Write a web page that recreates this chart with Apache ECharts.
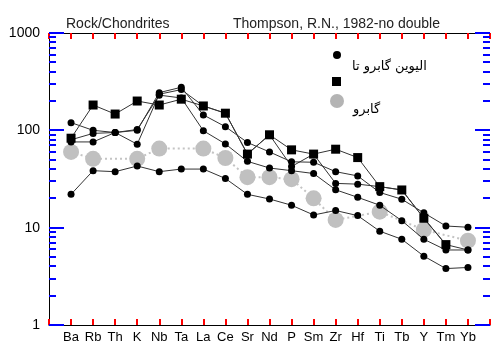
<!DOCTYPE html>
<html>
<head>
<meta charset="utf-8">
<script src="https://cdn.jsdelivr.net/npm/echarts@6/dist/echarts.min.js"></script>
<style>
html, body { margin: 0; padding: 0; background: #fff; }
#main { width: 493px; height: 345px; }
</style>
</head>
<body>
<div id="main"></div>
<script>
var categories = ['Ba', 'Rb', 'Th', 'K', 'Nb', 'Ta', 'La', 'Ce', 'Sr', 'Nd', 'P', 'Sm', 'Zr', 'Hf', 'Ti', 'Tb', 'Y', 'Tm', 'Yb'];

// olivine gabbro samples (black circles)
var sampleA = [120, 100, 95, 100, 244, 277, 144, 109, 75, 60, 47.5, 47, 37.6, 34, 23, 19.6, 14.2, 10.4, 10.1];
var sampleB = [80, 93, 95, 72, 235, 262, 178, 150, 57, 90, 42.5, 57, 28.5, 28, 26.4, 24.4, 12.5, 6.7, 5.9];
var sampleC = [76, 76, 95, 102, 230, 215, 99, 72.5, 48, 41, 38.5, 36, 24.5, 20.5, 17, 11.8, 7.6, 5.9, 5.9];
var sampleD = [22, 38.5, 37.6, 43, 37.6, 40, 40, 32, 22, 19.7, 17, 13.5, 15, 13.3, 9.2, 7.6, 5.1, 3.8, 3.9];
// black squares
var sampleSq = [83, 182, 147, 200, 182, 209, 178, 150, 57, 90, 63, 57, 64, 52.5, 26.4, 24.4, 12.5, 6.7, null];
// gabbro (grey)
var gabbro = [60, 51, null, 51, 65, null, 65, 52, 33, 33, 31.5, 20, 12, null, 14.6, null, 9.5, null, 7.35];

var majorTicks = [1, 10, 100, 1000];
var minorTicks = [2, 3, 4, 5, 6, 7, 8, 9, 20, 30, 40, 50, 60, 70, 80, 90, 200, 300, 400, 500, 600, 700, 800, 900];

function toPoints(values) {
    var pts = [];
    for (var i = 0; i < values.length; i++) {
        if (values[i] != null) {
            pts.push([i + 1, values[i]]);
        }
    }
    return pts;
}

var myChart = echarts.init(document.getElementById('main'));

function blackSeries(values, symbol, size) {
    return {
        type: 'line',
        data: toPoints(values),
        symbol: symbol,
        symbolSize: size,
        showAllSymbol: true,
        lineStyle: { color: '#333', width: 1 },
        itemStyle: { color: '#000' },
        z: 3
    };
}

function tickLine(x1, y1, x2, y2) {
    return { type: 'line', shape: { x1: x1, y1: y1, x2: x2, y2: y2 }, style: { stroke: 'blue', lineWidth: 2 } };
}

// inward log ticks on the left and right frame
var yTickData = majorTicks.concat(minorTicks).map(function (v) { return [0, v]; });
function renderYTick(params, api) {
    var v = api.value(1);
    var len = majorTicks.indexOf(v) >= 0 ? 15 : 7;
    var l = api.coord([0, v]);
    var r = api.coord([20, v]);
    var y = Math.round(l[1]);
    return {
        type: 'group',
        children: [
            tickLine(Math.round(l[0]), y, Math.round(l[0]) + len, y),
            tickLine(Math.round(r[0]), y, Math.round(r[0]) - len, y)
        ]
    };
}

var option = {
    animation: false,
    title: [
        { text: 'Rock/Chondrites', left: 61, top: 12, textStyle: { fontSize: 14, fontWeight: 'normal', color: '#222', fontFamily: 'Liberation Sans' } },
        { text: 'Thompson, R.N., 1982-no double', left: 228, top: 12, textStyle: { fontSize: 14, fontWeight: 'normal', color: '#222', fontFamily: 'Liberation Sans' } }
    ],
    grid: { left: 49, right: 1, top: 33, bottom: 20 },
    xAxis: [
        {
            type: 'value', min: 0, max: 20, interval: 1,
            axisLine: { lineStyle: { color: '#000' } },
            axisTick: { show: true, inside: true, length: 6, lineStyle: { color: 'red', width: 2 } },
            axisLabel: {
                color: '#000', fontSize: 13, fontFamily: 'Liberation Sans', margin: 6,
                formatter: function (v) { return categories[v - 1] || ''; }
            },
            splitLine: { show: false }
        },
        {
            type: 'value', min: 0, max: 20, interval: 1, position: 'top',
            axisLine: { lineStyle: { color: '#000' } },
            axisTick: { show: true, inside: true, length: 6, lineStyle: { color: 'red', width: 2 } },
            axisLabel: { show: false },
            splitLine: { show: false }
        }
    ],
    yAxis: [
        {
            type: 'log', logBase: 10, min: 1, max: 1000, position: 'left',
            axisLine: { show: true, lineStyle: { color: '#000' } },
            axisTick: { show: false },
            axisLabel: {
                color: '#000', fontSize: 14, fontFamily: 'Liberation Sans', margin: 9,
                formatter: function (v) { return String(Math.round(v)); }
            },
            splitLine: { show: false },
            minorTick: { show: false }
        },
        {
            type: 'log', logBase: 10, min: 1, max: 1000, position: 'right',
            axisLine: { show: true, lineStyle: { color: '#000' } },
            axisTick: { show: false },
            axisLabel: { show: false },
            splitLine: { show: false }
        }
    ],
    graphic: [
        { type: 'circle', shape: { cx: 337, cy: 55, r: 4 }, style: { fill: '#000' } },
        { type: 'rect', shape: { x: 332, y: 77, width: 9, height: 9 }, style: { fill: '#000' } },
        { type: 'circle', shape: { cx: 337, cy: 101, r: 7 }, style: { fill: '#b4b4b4' } },
        { type: 'text', left: 352, top: 60, style: { text: 'اليوين گابرو تا', fontSize: 13, fill: '#000', fontFamily: 'DejaVu Sans' } },
        { type: 'text', left: 353, top: 103, style: { text: 'گابرو', fontSize: 13, fill: '#000', fontFamily: 'DejaVu Sans' } }
    ],
    series: [
        { type: 'custom', data: yTickData, renderItem: renderYTick, clip: false, silent: true, z: 1 },
        {
            type: 'line',
            data: toPoints(gabbro),
            symbol: 'circle',
            symbolSize: 16,
            showAllSymbol: true,
            lineStyle: { color: '#c4c4c4', width: 2, type: [2, 3] },
            itemStyle: { color: '#c0c0c0' },
            z: 2
        },
        blackSeries(sampleSq, 'rect', 9),
        blackSeries(sampleA, 'circle', 7),
        blackSeries(sampleB, 'circle', 7),
        blackSeries(sampleC, 'circle', 7),
        blackSeries(sampleD, 'circle', 7)
    ]
};

myChart.setOption(option);
window.onresize = function () {
    myChart.resize();
};
</script>
</body>
</html>
